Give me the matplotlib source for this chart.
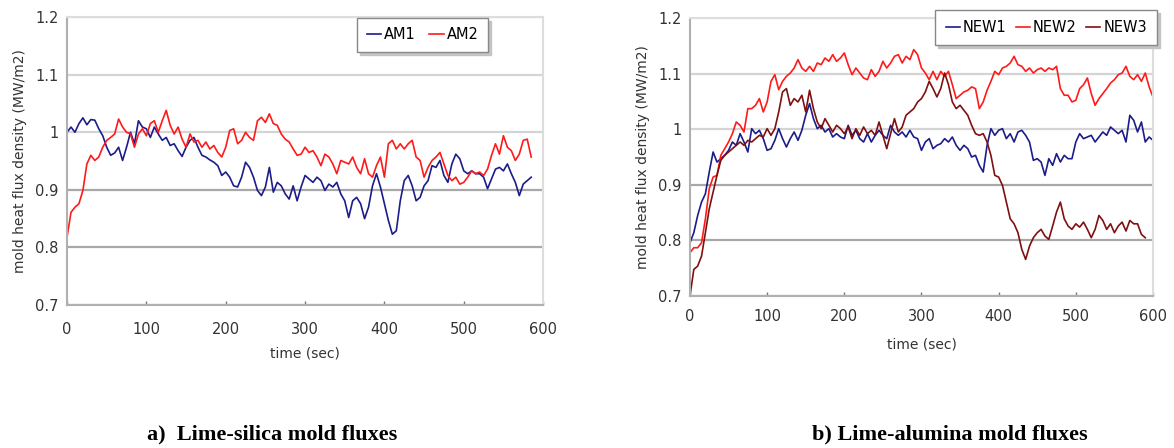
"""
Mold heat flux density for lime-silica and lime-alumina mold fluxes
"""

import numpy as np
import matplotlib
matplotlib.use('Agg')
from matplotlib import pyplot as plt
from matplotlib.ticker import FuncFormatter

# time grid (sec), 5 s steps
t_am = np.arange(0, 590, 5)
t_new = np.arange(0, 605, 5)

am1 = [1.000, 1.009, 1.000, 1.015, 1.025, 1.013, 1.022, 1.021, 1.006, 0.994,
       0.974, 0.960, 0.964, 0.974, 0.951, 0.974, 1.000, 0.980, 1.020, 1.009,
       1.006, 0.991, 1.009, 0.997, 0.986, 0.991, 0.977, 0.980, 0.968, 0.958,
       0.974, 0.986, 0.991, 0.974, 0.960, 0.957, 0.952, 0.948, 0.942, 0.925,
       0.931, 0.922, 0.907, 0.905, 0.922, 0.948, 0.939, 0.922, 0.899, 0.890,
       0.905, 0.939, 0.896, 0.913, 0.907, 0.893, 0.884, 0.907, 0.881, 0.905,
       0.925, 0.919, 0.913, 0.922, 0.916, 0.899, 0.910, 0.905, 0.913, 0.893,
       0.881, 0.852, 0.881, 0.887, 0.876, 0.850, 0.870, 0.907, 0.928, 0.905,
       0.876, 0.847, 0.823, 0.829, 0.881, 0.916, 0.925, 0.907, 0.881, 0.887,
       0.907, 0.916, 0.942, 0.939, 0.951, 0.925, 0.913, 0.945, 0.962, 0.954,
       0.933, 0.928, 0.933, 0.928, 0.928, 0.922, 0.902, 0.919, 0.936, 0.939,
       0.933, 0.945, 0.928, 0.913, 0.890, 0.910, 0.916, 0.922]
am2 = [0.818, 0.861, 0.870, 0.876, 0.899, 0.945, 0.960, 0.951, 0.957, 0.974,
       0.986, 0.991, 0.997, 1.023, 1.009, 1.000, 0.997, 0.974, 0.997, 1.006,
       0.994, 1.015, 1.020, 1.000, 1.020, 1.038, 1.012, 0.997, 1.009, 0.988,
       0.974, 0.997, 0.983, 0.986, 0.974, 0.983, 0.971, 0.977, 0.965, 0.957,
       0.974, 1.003, 1.006, 0.980, 0.986, 1.000, 0.991, 0.986, 1.020, 1.026,
       1.017, 1.032, 1.015, 1.012, 0.997, 0.988, 0.983, 0.971, 0.960, 0.962,
       0.974, 0.965, 0.968, 0.957, 0.942, 0.962, 0.957, 0.945, 0.928, 0.951,
       0.948, 0.945, 0.957, 0.939, 0.928, 0.954, 0.928, 0.922, 0.942, 0.957,
       0.922, 0.980, 0.986, 0.971, 0.980, 0.971, 0.980, 0.986, 0.957, 0.951,
       0.922, 0.939, 0.951, 0.957, 0.965, 0.945, 0.925, 0.916, 0.922, 0.910,
       0.913, 0.922, 0.933, 0.928, 0.931, 0.925, 0.936, 0.960, 0.980, 0.962,
       0.994, 0.974, 0.968, 0.951, 0.962, 0.986, 0.988, 0.957]

new1 = [0.796, 0.814, 0.845, 0.869, 0.884, 0.923, 0.959, 0.941, 0.947, 0.953,
        0.962, 0.977, 0.971, 0.992, 0.977, 0.959, 1.001, 0.992, 0.998, 0.983,
        0.962, 0.965, 0.980, 1.001, 0.983, 0.968, 0.983, 0.995, 0.980, 0.998,
        1.025, 1.046, 1.019, 1.001, 1.007, 0.995, 1.001, 0.986, 0.992, 0.986,
        0.983, 1.007, 0.989, 0.998, 0.983, 0.977, 0.992, 0.977, 0.989, 0.998,
        0.989, 0.983, 1.007, 0.995, 0.989, 0.995, 0.986, 0.998, 0.986, 0.983,
        0.962, 0.977, 0.983, 0.965, 0.971, 0.974, 0.983, 0.977, 0.986, 0.971,
        0.962, 0.971, 0.965, 0.950, 0.953, 0.935, 0.923, 0.971, 1.001, 0.989,
        0.998, 1.001, 0.983, 0.992, 0.977, 0.995, 0.998, 0.989, 0.977, 0.944,
        0.947, 0.941, 0.917, 0.947, 0.935, 0.956, 0.941, 0.953, 0.947, 0.947,
        0.977, 0.992, 0.983, 0.986, 0.989, 0.977, 0.986, 0.995, 0.989, 1.004,
        0.998, 0.992, 0.998, 0.977, 1.025, 1.016, 0.995, 1.013, 0.977, 0.986,
        0.980]
new2 = [0.778, 0.787, 0.787, 0.796, 0.839, 0.893, 0.914, 0.917, 0.953, 0.965,
        0.977, 0.992, 1.013, 1.007, 0.995, 1.037, 1.037, 1.043, 1.055, 1.031,
        1.049, 1.086, 1.098, 1.071, 1.086, 1.095, 1.101, 1.110, 1.125, 1.110,
        1.104, 1.113, 1.104, 1.119, 1.116, 1.128, 1.122, 1.134, 1.122, 1.128,
        1.137, 1.116, 1.098, 1.110, 1.101, 1.092, 1.089, 1.107, 1.095, 1.104,
        1.122, 1.110, 1.119, 1.131, 1.134, 1.119, 1.131, 1.125, 1.143, 1.134,
        1.110, 1.101, 1.089, 1.104, 1.089, 1.104, 1.095, 1.104, 1.080, 1.055,
        1.061, 1.067, 1.070, 1.076, 1.073, 1.037, 1.049, 1.070, 1.086, 1.104,
        1.098, 1.110, 1.113, 1.119, 1.131, 1.116, 1.113, 1.104, 1.110, 1.101,
        1.107, 1.110, 1.104, 1.110, 1.107, 1.113, 1.073, 1.061, 1.061, 1.049,
        1.052, 1.073, 1.080, 1.092, 1.064, 1.043, 1.055, 1.064, 1.073, 1.083,
        1.089, 1.098, 1.101, 1.113, 1.095, 1.089, 1.098, 1.086, 1.101, 1.076,
        1.058]
new3 = [0.700, 0.748, 0.754, 0.772, 0.814, 0.857, 0.887, 0.917, 0.944, 0.953,
        0.959, 0.965, 0.971, 0.977, 0.971, 0.980, 0.977, 0.983, 0.989, 0.986,
        1.001, 0.989, 1.001, 1.031, 1.067, 1.073, 1.043, 1.055, 1.049, 1.061,
        1.031, 1.070, 1.037, 1.013, 1.001, 1.019, 1.007, 0.995, 1.007, 1.001,
        0.992, 1.004, 0.983, 1.001, 0.989, 1.004, 0.992, 0.998, 0.989, 1.013,
        0.989, 0.965, 0.992, 1.019, 0.995, 1.004, 1.025, 1.031, 1.037, 1.049,
        1.055, 1.067, 1.086, 1.073, 1.058, 1.073, 1.101, 1.080, 1.049, 1.037,
        1.043, 1.034, 1.025, 1.007, 0.992, 0.989, 0.992, 0.977, 0.953, 0.917,
        0.914, 0.899, 0.869, 0.839, 0.830, 0.814, 0.784, 0.766, 0.790, 0.805,
        0.814, 0.820, 0.808, 0.802, 0.826, 0.851, 0.869, 0.839, 0.826, 0.820,
        0.830, 0.824, 0.833, 0.820, 0.805, 0.820, 0.845, 0.836, 0.820, 0.830,
        0.814, 0.826, 0.833, 0.817, 0.836, 0.830, 0.830, 0.811, 0.805]

y_ticks = [0.7, 0.8, 0.9, 1.0, 1.1, 1.2]
x_ticks = [0, 100, 200, 300, 400, 500, 600]

NAVY = '#1c1c8a'
RED = '#ff1a1a'
MAROON = '#7f1010'

plt.rcParams['font.family'] = ['DejaVu Sans']

fig = plt.figure(figsize=(11.74, 4.48), dpi=100)
ax1 = fig.add_axes([0.0571, 0.319, 0.4055, 0.643])
ax2 = fig.add_axes([0.5877, 0.339, 0.3944, 0.621])


def style_axes(ax, xpad, xlabelpad):
    ax.set_xlim(0, 600)
    ax.set_ylim(0.7, 1.2)
    ax.set_xticks(x_ticks)
    ax.set_yticks(y_ticks)
    ax.yaxis.set_major_formatter(FuncFormatter(lambda v, p: f'{v:g}'))
    ax.tick_params(axis='y', length=0, pad=6, labelsize=10.5, colors='#333333')
    ax.tick_params(axis='x', direction='in', length=3, width=1, color='#777777',
                   pad=xpad, labelsize=10.5, labelcolor='#333333')
    ax.grid(axis='y', lw=1.6)
    # lower gridlines come out darker than the upper ones in the source
    for i, gl in enumerate(ax.get_ygridlines()):
        gl.set_color('#a8a8a8' if y_ticks[i] < 0.95 else '#d4d4d4')
    ax.set_axisbelow(True)
    for side in ['top', 'right']:
        ax.spines[side].set_color('#dddddd')
        ax.spines[side].set_linewidth(1.5)
    for side in ['left', 'bottom']:
        ax.spines[side].set_color('#b0b0b0')
        ax.spines[side].set_linewidth(1.5)
    ax.set_xlabel('time (sec)', fontsize=10, color='#333333', labelpad=xlabelpad)
    ax.set_ylabel('mold heat flux density (MW/m2)', fontsize=10, color='#333333',
                  labelpad=6)


shadow_style = {'color': '#c4c4c4', 'alpha': 1.0, 'ox': 2, 'oy': -2}

ax1.plot(t_am, am1, color=NAVY, lw=1.2, label='AM1')
ax1.plot(t_am, am2, color=RED, lw=1.2, label='AM2')
style_axes(ax1, 12, 7)
leg1 = ax1.legend(loc='upper right', ncol=2, fontsize=10.5, frameon=True, fancybox=False,
                  shadow=shadow_style, handlelength=1.0, handletextpad=0.2,
                  columnspacing=0.9, borderpad=0.65, borderaxespad=0,
                  bbox_to_anchor=(0.884, 0.997))
leg1.get_frame().set_edgecolor('#888888')

ax2.plot(t_new, new1, color=NAVY, lw=1.2, label='NEW1')
ax2.plot(t_new, new2, color=RED, lw=1.2, label='NEW2')
ax2.plot(t_new[:len(new3)], new3, color=MAROON, lw=1.2, label='NEW3')
style_axes(ax2, 9, 10)
leg2 = ax2.legend(loc='upper right', ncol=3, fontsize=10.5, frameon=True, fancybox=False,
                  shadow=shadow_style, handlelength=1.0, handletextpad=0.2,
                  columnspacing=0.6, borderpad=0.7, borderaxespad=0,
                  bbox_to_anchor=(1.0086, 1.029))
leg2.get_frame().set_edgecolor('#888888')

fig.text(0.232, 0.03, 'a)  Lime-silica mold fluxes', fontsize=16, fontweight='bold',
         family='Liberation Serif', ha='center', va='center')
fig.text(0.809, 0.03, 'b) Lime-alumina mold fluxes', fontsize=16, fontweight='bold',
         family='Liberation Serif', ha='center', va='center')

plt.savefig('out.png', dpi=100, facecolor='white')
plt.close()
